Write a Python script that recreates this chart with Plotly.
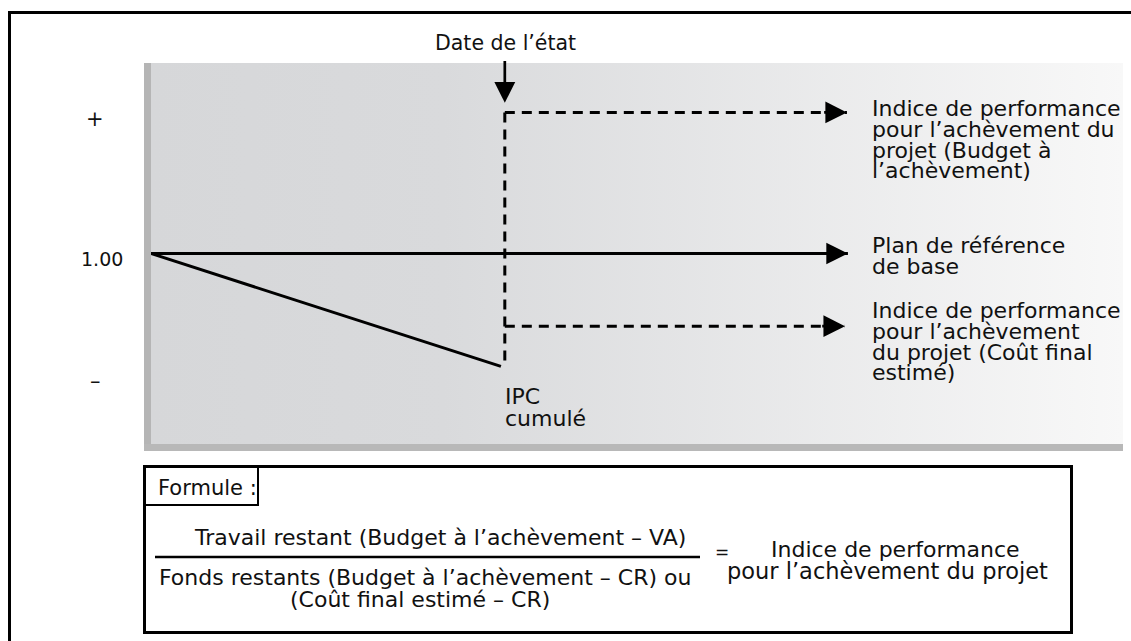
import plotly.graph_objects as go

# ---------------- data ----------------
time_range = [0, 100]          # x extent of the shaded panel (time units)
index_range = [0.73, 1.27]     # y extent (performance index)

tick_labels = ["+", "1.00", "–"]
tick_values = [1.19, 1.00, 0.82]

baseline_x = [0, 71.7]
baseline_y = [1.00, 1.00]

cpi_x = [0, 36.0]
cpi_y = [1.00, 0.84]

status_date = 36.4
tcpi_bac = 1.20
tcpi_eac = 0.897
tcpi_end = [71.6, 71.4]

labels_bac = ["Indice de performance", "pour l’achèvement du", "projet (Budget à", "l’achèvement)"]
labels_base = ["Plan de référence", "de base"]
labels_eac = ["Indice de performance", "pour l’achèvement", "du projet (Coût final", "estimé)"]
labels_cpi = ["IPC", "cumulé"]
status_label = "Date de l’état"

formula_title = "Formule :"
numerator = "Travail restant (Budget à l’achèvement – VA)"
denominator = ["Fonds restants (Budget à l’achèvement – CR) ou", "(Coût final estimé – CR)"]
result = ["Indice de performance", "pour l’achèvement du projet"]

# ---------------- layout helpers (pixel -> paper) ----------------
W, H = 1131, 641
L, R, T, B = 151, 1123, 63, 444


def px(x):
    return (x - L) / (R - L)


def py(y):
    return (B - y) / (B - T)


FONT = "DejaVu Sans"
FS = 22
INK = "#111111"

fig = go.Figure()

# gradient panel
fig.add_trace(go.Scatter(
    x=[time_range[0], time_range[1], time_range[1], time_range[0]],
    y=[index_range[0], index_range[0], index_range[1], index_range[1]],
    fill="toself", mode="lines", line=dict(width=0),
    fillgradient=dict(type="horizontal",
                      colorscale=[[0, "#d6d7d9"], [0.3, "#d9dadc"], [1, "#f8f8f8"]]),
    hoverinfo="skip"))

line_style = dict(color="black", width=3)
dash_style = dict(color="black", width=3, dash="10px,7px")

fig.add_trace(go.Scatter(x=baseline_x, y=baseline_y, mode="lines", line=line_style, hoverinfo="skip"))
fig.add_trace(go.Scatter(x=cpi_x, y=cpi_y, mode="lines", line=line_style, hoverinfo="skip"))
fig.add_trace(go.Scatter(x=[status_date, status_date], y=[tcpi_bac, cpi_y[-1]],
                         mode="lines", line=dash_style, hoverinfo="skip"))
fig.add_trace(go.Scatter(x=[status_date, tcpi_end[0]], y=[tcpi_bac, tcpi_bac],
                         mode="lines", line=dash_style, hoverinfo="skip"))
fig.add_trace(go.Scatter(x=[status_date, tcpi_end[1]], y=[tcpi_eac, tcpi_eac],
                         mode="lines", line=dash_style, hoverinfo="skip"))

ann = []


def arrow(x, y, ax, ay, size=1.6):
    ann.append(dict(x=x, y=y, ax=ax, ay=ay, xref="x", yref="y", axref="x", ayref="y",
                    text="", showarrow=True, arrowhead=2, arrowsize=size, arrowwidth=2.7,
                    arrowcolor="black", standoff=0))


arrow(baseline_x[-1], baseline_y[-1], baseline_x[-1] - 2.5, baseline_y[-1])
arrow(tcpi_end[0], tcpi_bac, tcpi_end[0] - 2.5, tcpi_bac)
arrow(tcpi_end[1], tcpi_eac, tcpi_end[1] - 2.5, tcpi_eac)
arrow(status_date, 1.2135, status_date, 1.275, 1.55)


def text(s, x, y, anchor="left", size=FS):
    ann.append(dict(text=s, x=px(x), y=py(y), xref="paper", yref="paper",
                    xanchor=anchor, yanchor="middle", showarrow=False,
                    font=dict(family=FONT, size=size, color=INK)))


# tick labels
tick_px_x = [95, 102, 95]
tick_sizes = [21, 19, 21]
for lab, val, xx, fs in zip(tick_labels, tick_values, tick_px_x, tick_sizes):
    ann.append(dict(text=lab, x=px(xx), y=val, xref="paper", yref="y", yshift=-5 if lab == "1.00" else 0,
                    xanchor="center", yanchor="middle", showarrow=False,
                    font=dict(family=FONT, size=fs, color=INK)))

text(status_label, 505, 43, "center", 20.5)

for s, yy in zip(labels_bac, [108, 129, 150, 170]):
    text(s, 870, yy)
for s, yy in zip(labels_base, [245, 266]):
    text(s, 870, yy)
for s, yy in zip(labels_eac, [310, 331, 352, 372]):
    text(s, 870, yy)
for s, yy in zip(labels_cpi, [396, 418]):
    text(s, 503, yy)

text(formula_title, 156, 488, size=21)
text(numerator, 440, 537, "center")
text(denominator[0], 425, 577, "center")
text(denominator[1], 420, 599, "center")
text("=", 722, 552, "center", 17)
text(result[0], 895, 549, "center")
text(result[1], 887, 571, "center", 22.5)

shapes = [
    dict(type="rect", xref="paper", yref="paper", x0=px(144), x1=px(151), y0=py(63), y1=py(451),
         fillcolor="#b5b5b5", line=dict(width=0)),
    dict(type="rect", xref="paper", yref="paper", x0=px(144), x1=px(1123), y0=py(444), y1=py(451),
         fillcolor="#b8b8b8", line=dict(width=0)),
    dict(type="rect", xref="paper", yref="paper", x0=px(9.5), x1=px(1250), y0=py(12.5), y1=py(760),
         fillcolor="rgba(0,0,0,0)", line=dict(color="black", width=3)),
    dict(type="rect", xref="paper", yref="paper", x0=px(144.5), x1=px(1071.5), y0=py(466.5), y1=py(632.5),
         fillcolor="rgba(0,0,0,0)", line=dict(color="black", width=3), layer="below"),
    dict(type="rect", xref="paper", yref="paper", x0=px(144.5), x1=px(258), y0=py(466.5), y1=py(505),
         fillcolor="rgba(0,0,0,0)", line=dict(color="black", width=2)),
    dict(type="line", xref="paper", yref="paper", x0=px(155), x1=px(700), y0=py(557), y1=py(557),
         line=dict(color="black", width=2.5)),
]

fig.update_layout(
    width=W, height=H,
    margin=dict(l=L, r=W - R, t=T, b=H - B, pad=0),
    paper_bgcolor="white", plot_bgcolor="white",
    showlegend=False,
    xaxis=dict(range=time_range, visible=False, fixedrange=True),
    yaxis=dict(range=index_range, visible=False, fixedrange=True),
    annotations=ann, shapes=shapes,
)

fig.write_html("out.html", config={"displayModeBar": False},
               post_script="document.body.style.margin='0px';")
